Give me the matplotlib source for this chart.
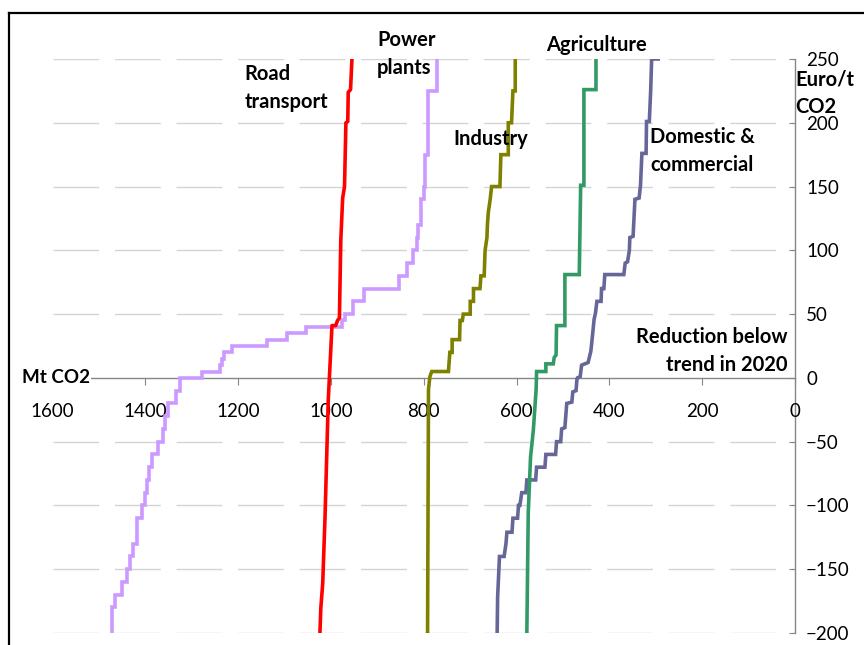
import numpy as np
import matplotlib
matplotlib.use("Agg")
import matplotlib.pyplot as plt
from matplotlib.lines import Line2D

plt.rcParams['font.family'] = ['Lato', 'DejaVu Sans']

# ── Data: cumulative reduction (Mt CO2) vs. cost (Euro/t CO2) ────────────────
# Road transport (polyline vertices)
road_x = [1024, 1022, 1018, 1013, 1006, 998, 990, 986, 982, 979, 975, 971, 968, 964, 963, 958, 955]
road_y = [-200, -180, -161, -109, -17, 41, 41, 45, 47, 108, 141, 150, 200, 201, 224, 226, 250]

# Power plants (step curve: x holds between consecutive cost levels)
power_levels = [-200, -180, -170, -160, -150, -140, -130, -110, -100, -90,
                -80, -70, -60, -50, -40, -30, -20, -10, 0, 5,
                10, 15, 20, 25, 30, 35, 40, 45, 50, 60,
                70, 80, 90, 100, 110, 120, 140, 150, 175, 225, 250]
power_x = [1473, 1466, 1451, 1440, 1433, 1426, 1418, 1408, 1401, 1397,
           1392, 1386, 1372, 1363, 1358, 1351, 1334, 1325, 1279, 1239,
           1236, 1231, 1214, 1139, 1094, 1055, 977, 970, 953, 930,
           853, 836, 823, 815, 812, 807, 800, 797, 790, 771]

# Industry
ind_x = [792, 790, 787, 783, 747, 744, 739, 739, 723, 722, 717, 715, 700, 700, 693, 693,
         679, 677, 670, 668, 664, 663, 661, 657, 654, 636, 634, 618, 618, 611, 608, 603, 603]
ind_y = [-200, -9, 1, 5, 5, 20, 20, 30, 30, 45, 45, 50, 50, 60, 60, 70,
         70, 80, 80, 100, 110, 120, 130, 140, 150, 150, 175, 175, 200, 200, 225, 225, 250]

# Agriculture
agr_x = [578, 575, 570, 564, 558, 557, 537, 537, 521, 519, 515, 514, 496, 496, 465, 462, 455, 455, 429, 429]
agr_y = [-200, -106, -62, -41, -9, 5, 5, 11, 11, 16, 18, 41, 41, 81, 81, 151, 151, 226, 226, 250]

# Domestic & commercial
dom_x = [642, 641, 637, 627, 623, 621, 610, 608, 598, 596, 593, 589, 580, 578, 559, 557, 539, 537,
         516, 514, 505, 503, 496, 492, 481, 479, 472, 470, 469, 463, 460, 446, 440, 436, 433, 430,
         427, 418, 417, 412, 410, 369, 366, 361, 357, 356, 349, 345, 336, 333, 330, 321, 320, 314,
         311, 309, 295]
dom_y = [-200, -172, -140, -140, -130, -121, -121, -110, -110, -100, -100, -90, -90, -80, -80, -70, -70, -60,
         -60, -50, -50, -40, -39, -20, -19, -11, -10, -1, 0, 1, 10, 12, 21, 35, 46, 51,
         60, 60, 70, 70, 81, 81, 90, 91, 100, 110, 111, 140, 141, 151, 176, 176, 201, 201,
         226, 250, 250]

y_ticks = [-200, -150, -100, -50, 0, 50, 100, 150, 200, 250]
x_ticks = [1600, 1400, 1200, 1000, 800, 600, 400, 200, 0]


def step_vertices(levels, xs):
    # vertical run at xs[i] from levels[i] to levels[i+1]
    vx = np.repeat(xs, 2)
    vy = np.column_stack([levels[:-1], levels[1:]]).ravel()
    return vx, vy


fig = plt.figure(figsize=(8.64, 6.45), dpi=100)
ax = fig.add_axes([52.7 / 864, 12 / 645, (795 - 52.7) / 864, 574 / 645])
ax.set_xlim(1600, 0)
ax.set_ylim(-200, 250)

# dashed gridlines
for yv in y_ticks:
    if yv != 0:
        ax.axhline(yv, color='#D4D4D4', lw=1.0, dashes=(32.9, 11.4), zorder=0)

LW = 2.6
px, py = step_vertices(np.array(power_levels), np.array(power_x))
ax.plot(px, py, color='#CC99FF', lw=LW, solid_joinstyle='miter', zorder=2)
ax.plot(road_x, road_y, color='#FF0000', lw=LW, zorder=3)
ax.plot(ind_x, ind_y, color='#808000', lw=LW, solid_joinstyle='miter', zorder=3)
ax.plot(dom_x, dom_y, color='#666699', lw=LW, solid_joinstyle='miter', zorder=3)
ax.plot(agr_x, agr_y, color='#339966', lw=LW, solid_joinstyle='miter', zorder=4)

# axes styling
for s in ['top', 'left']:
    ax.spines[s].set_visible(False)
ax.spines['bottom'].set_position(('data', 0))
ax.spines['right'].set_position(('data', 0))
for s in ['bottom', 'right']:
    ax.spines[s].set_color('#868686')
    ax.spines[s].set_linewidth(1.0)
    ax.spines[s].set_zorder(1)

ax.yaxis.tick_right()
ax.set_yticks(y_ticks)
ax.set_xticks(x_ticks)
ax.tick_params(axis='y', direction='in', length=4, color='#868686', labelsize=13.5, pad=8)
ax.tick_params(axis='x', direction='out', length=5, color='#868686', labelsize=13.5, pad=13)

# annotations
bold = dict(fontsize=14.5, fontweight='bold', color='black', linespacing=1.5)
ax.text(1187, 227, "Road\ntransport", ha='left', va='center', **bold)
ax.text(901, 254, "Power\nplants", ha='left', va='center', **bold)
ax.text(537, 261, "Agriculture", ha='left', va='center', **bold)
ax.text(737, 187, "Industry", ha='left', va='center', **bold)
ax.text(312, 178, "Domestic &\ncommercial", ha='left', va='center', **bold)
ax.text(-1, 223, "Euro/t\nCO2", ha='left', va='center', clip_on=False, **bold)
ax.text(17, 21, "Reduction below\ntrend in 2020", ha='right', va='center', **bold)
ax.text(1666, 0, "Mt CO2", ha='left', va='center', clip_on=False, zorder=5,
        fontsize=13.5, fontweight='bold', color='black',
        bbox=dict(facecolor='white', edgecolor='none', pad=0.5))

# chart frame (top and left edges visible)
fx = 8.7 / 864
fy = 1 - 13.3 / 645
fig.add_artist(Line2D([fx, fx], [0, fy], transform=fig.transFigure, color='black', lw=1.6))
fig.add_artist(Line2D([fx, 1], [fy, fy], transform=fig.transFigure, color='black', lw=1.6))

fig.savefig("out.png", dpi=100)
